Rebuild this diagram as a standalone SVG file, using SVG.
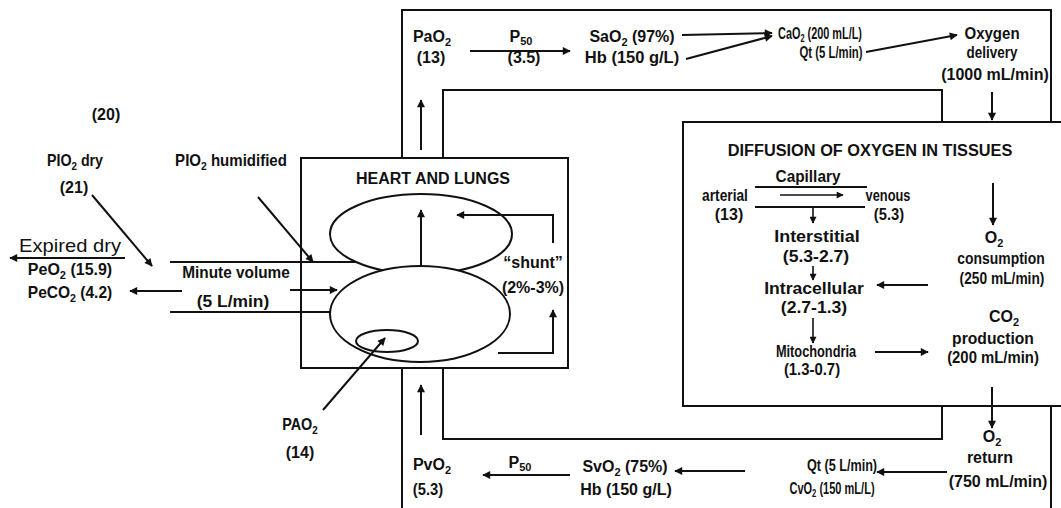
<svg xmlns="http://www.w3.org/2000/svg" width="1061" height="508" viewBox="0 0 1061 508">
<defs>
<marker id="ah" viewBox="0 0 10 10" refX="9" refY="5" markerWidth="10" markerHeight="8" markerUnits="userSpaceOnUse" orient="auto"><path d="M0,0 L10,5 L0,10 z" fill="#111"/></marker>
<marker id="as" viewBox="0 0 10 10" refX="9" refY="5" markerWidth="8" markerHeight="7" markerUnits="userSpaceOnUse" orient="auto"><path d="M0,0 L10,5 L0,10 z" fill="#111"/></marker>
</defs>
<style>
text{font-family:"Liberation Sans",Arial,sans-serif;font-weight:bold;font-size:16px;fill:#111;text-anchor:middle}
.reg{font-weight:normal;font-size:18px}
.ln{fill:none;stroke:#111;stroke-width:2}
.ar{fill:none;stroke:#111;stroke-width:2;marker-end:url(#ah)}
.sa{fill:none;stroke:#111;stroke-width:1.6;marker-end:url(#as)}
.box{fill:#fff;stroke:#111;stroke-width:2}
.el{fill:#fff;stroke:#111;stroke-width:2}
.sub{font-size:11px}
</style>
<rect width="1061" height="508" fill="#fff"/>

<g id="circulation">
<path class="ln" d="M402,158 V10 H1051 V122"/>
<path class="ln" d="M1051,406 V508"/>
<path class="ln" d="M402,368 V508"/>
<path class="ln" d="M443,158 V90 H942 V122"/>
<path class="ln" d="M443,368 V439 H942 V406"/>
</g>

<g id="heart-lungs">
<rect class="box" x="301" y="158" width="267" height="210"/>
<text transform="translate(433,184)">HEART AND LUNGS</text>
<ellipse class="el" cx="421" cy="234" rx="91" ry="40"/>
<ellipse class="el" cx="420" cy="314" rx="90" ry="48"/>
<ellipse class="el" cx="387" cy="341" rx="31" ry="11"/>
<text transform="translate(533,268)">“shunt”</text>
<text transform="translate(533,293)">(2%-3%)</text>
</g>

<g id="tissues">
<rect class="box" x="683" y="122" width="400" height="284"/>
<text transform="translate(870,156) scale(1.02,1)">DIFFUSION OF OXYGEN IN TISSUES</text>
<text transform="translate(808,182) scale(0.96,1)">Capillary</text>
<text transform="translate(725,201) scale(0.86,1)">arterial</text>
<text transform="translate(729,220)">(13)</text>
<text transform="translate(888,201) scale(0.8,1)">venous</text>
<text transform="translate(889,220) scale(0.92,1)">(5.3)</text>
<text transform="translate(817,242) scale(1.12,1)">Interstitial</text>
<text transform="translate(816,262) scale(1.1,1)">(5.3-2.7)</text>
<text transform="translate(814,294) scale(1.1,1)">Intracellular</text>
<text transform="translate(814,313) scale(1.1,1)">(2.7-1.3)</text>
<text transform="translate(816,357) scale(0.8,1)">Mitochondria</text>
<text transform="translate(812,375) scale(0.93,1)">(1.3-0.7)</text>
<text transform="translate(994,243)">O<tspan class="sub" dy="4">2</tspan></text>
<text transform="translate(1001,264) scale(0.87,1)">consumption</text>
<text transform="translate(1002,284) scale(0.86,1)">(250 mL/min)</text>
<text transform="translate(1004,322)">CO<tspan class="sub" dy="4">2</tspan></text>
<text transform="translate(993,344) scale(0.98,1)">production</text>
<text transform="translate(993,363) scale(0.93,1)">(200 mL/min)</text>
</g>

<g id="arterial-row">
<text transform="translate(432,42)">PaO<tspan class="sub" dy="4">2</tspan></text>
<text transform="translate(431,63)">(13)</text>
<text transform="translate(521,42)">P<tspan class="sub" dy="3">50</tspan></text>
<text transform="translate(524,63)">(3.5)</text>
<text transform="translate(632,42)">SaO<tspan class="sub" dy="4">2</tspan><tspan dy="-4"> (97%)</tspan></text>
<text transform="translate(632,63) scale(1.03,1)">Hb (150 g/L)</text>
<text transform="translate(820,39) scale(0.68,1)">CaO<tspan class="sub" dy="3">2</tspan><tspan dy="-3"> (200 mL/L)</tspan></text>
<text transform="translate(831,58) scale(0.71,1)">Qt (5 L/min)</text>
<text transform="translate(992,39) scale(0.94,1)">Oxygen</text>
<text transform="translate(992,58) scale(0.84,1)">delivery</text>
<text transform="translate(995,80)">(1000 mL/min)</text>
</g>

<g id="venous-row">
<text transform="translate(432,470)">PvO<tspan class="sub" dy="4">2</tspan></text>
<text transform="translate(428,495) scale(0.92,1)">(5.3)</text>
<text transform="translate(520,468)">P<tspan class="sub" dy="3">50</tspan></text>
<text transform="translate(625,472)">SvO<tspan class="sub" dy="4">2</tspan><tspan dy="-4"> (75%)</tspan></text>
<text transform="translate(626,495)">Hb (150 g/L)</text>
<text transform="translate(842,471) scale(0.79,1)">Qt (5 L/min)</text>
<text transform="translate(832,494) scale(0.69,1)">CvO<tspan class="sub" dy="3">2</tspan><tspan dy="-3"> (150 mL/L)</tspan></text>
<text transform="translate(992,442)">O<tspan class="sub" dy="4">2</tspan></text>
<text transform="translate(990,463)">return</text>
<text transform="translate(998,487)">(750 mL/min)</text>
</g>

<g id="ventilation">
<text transform="translate(106,120)">(20)</text>
<text transform="translate(75,166) scale(0.89,1)">PIO<tspan class="sub" dy="4">2</tspan><tspan dy="-4"> dry</tspan></text>
<text transform="translate(74,193)">(21)</text>
<text transform="translate(231,166) scale(0.94,1)">PIO<tspan class="sub" dy="4">2</tspan><tspan dy="-4"> humidified</tspan></text>
<text class="reg" transform="translate(70,252) scale(1.12,1)">Expired dry</text>
<text transform="translate(70,275)">PeO<tspan class="sub" dy="4">2</tspan><tspan dy="-4"> (15.9)</tspan></text>
<text transform="translate(70,298) scale(0.97,1)">PeCO<tspan class="sub" dy="4">2</tspan><tspan dy="-4"> (4.2)</tspan></text>
<text transform="translate(236,278) scale(0.96,1)">Minute volume</text>
<text transform="translate(233,307) scale(1.09,1)">(5 L/min)</text>
<text transform="translate(300,430) scale(0.9,1)">PAO<tspan class="sub" dy="4">2</tspan></text>
<text transform="translate(300,458)">(14)</text>
</g>

<g id="connectors">
<path class="ar" d="M421,150 V100"/>
<path class="ar" d="M470,51 H570"/>
<path class="ar" d="M682,35 L772,33"/>
<path class="ar" d="M686,59 L772,36"/>
<path class="ar" d="M866,52 L957,35"/>
<path class="ar" d="M992,92 V120"/>
<path class="ln" d="M755,187 H867"/>
<path class="sa" d="M780,195 H843"/>
<path class="ln" d="M755,207 H865"/>
<path class="sa" d="M813,207 V223"/>
<path class="sa" d="M813,266 V280"/>
<path class="sa" d="M813,318 V343"/>
<path class="ar" d="M993,183 V225"/>
<path class="ar" d="M928,285 H877"/>
<path class="ar" d="M875,352 H928"/>
<path class="ar" d="M992,387 V428"/>
<path class="ar" d="M947,472 H877"/>
<path class="ar" d="M745,471 H675"/>
<path class="ar" d="M570,475 H483"/>
<path class="ar" d="M421,435 V385"/>
<path class="ar" d="M421,267 V210"/>
<path class="ar" d="M553,243 V215 H457"/>
<path class="ar" d="M498,353 H553 V310"/>
<path class="ar" d="M323,410 L385,338"/>
<path class="ar" d="M92,195 L152,266"/>
<path class="ar" d="M258,197 L313,262"/>
<path class="ar" d="M125,258 H10"/>
<path class="ln" d="M170,262 H357"/>
<path class="ln" d="M170,312 H331"/>
<path class="ar" d="M182,291 H130"/>
<path class="ar" d="M290,290 H337"/>
</g>
</svg>
